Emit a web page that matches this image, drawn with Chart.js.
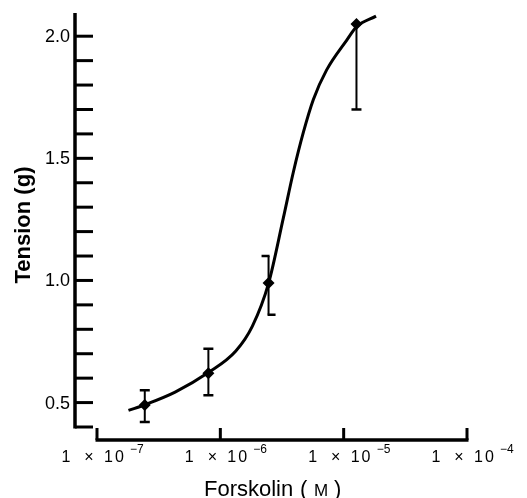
<!DOCTYPE html>
<html lang="en">
<head>
  <meta charset="utf-8">
  <script src="https://cdn.jsdelivr.net/npm/chart.js@4.4.0/dist/chart.umd.min.js"></script>
  <style>
    html, body { margin: 0; padding: 0; background: #fff; }
    .chart-box { width: 527px; height: 498px; position: relative; }
  </style>
</head>
<body>
  <div class="chart-box">
    <canvas id="doseChart"></canvas>
  </div>

  <script>
    // measured points (concentration in M, tension in g)
    const concentrations = [2.44e-7, 8.0e-7, 2.46e-6, 1.27e-5];
    const tension = [0.49, 0.62, 0.99, 2.05];
    const errLow = [0.42, 0.53, 0.86, 1.70];
    const errHigh = [0.55, 0.72, 1.10, 2.05];

    // fitted curve
    const curveX = [1.80e-7, 2.44e-7, 4.30e-7, 8.0e-7, 1.33e-6, 1.82e-6, 2.46e-6, 3.24e-6,
                    3.91e-6, 4.71e-6, 5.68e-6, 7.28e-6, 1.06e-5, 1.27e-5, 1.83e-5];
    const curveY = [0.468, 0.491, 0.543, 0.623, 0.710, 0.813, 0.988, 1.255,
                    1.444, 1.606, 1.741, 1.862, 1.984, 2.038, 2.082];

    const xTickValues = [1e-7, 1e-6, 1e-5, 1e-4];
    const yLabelTicks = ['0.5', '1.0', '1.5', '2.0'];

    const FONT = '"Liberation Sans", Arial, sans-serif';

    // error bars drawn by hand; the third one is a bracket in the original
    const errorBars = {
      id: 'errorBars',
      afterDatasetsDraw(chart) {
        const { ctx, scales: { x, y } } = chart;
        ctx.save();
        ctx.strokeStyle = '#000';
        concentrations.forEach((c, i) => {
          const px = x.getPixelForValue(c);
          const top = y.getPixelForValue(errHigh[i]);
          const bot = y.getPixelForValue(errLow[i]);
          ctx.lineWidth = 2;
          ctx.beginPath();
          ctx.moveTo(px, top);
          ctx.lineTo(px, bot);
          ctx.stroke();
          ctx.lineWidth = 2.5;
          ctx.beginPath();
          if (i === 2) {
            ctx.moveTo(px - 7, top); ctx.lineTo(px + 1, top);
            ctx.moveTo(px - 1, bot); ctx.lineTo(px + 7, bot);
          } else {
            if (errHigh[i] > tension[i]) { ctx.moveTo(px - 5, top); ctx.lineTo(px + 5, top); }
            ctx.moveTo(px - 5, bot); ctx.lineTo(px + 5, bot);
          }
          ctx.stroke();
        });
        ctx.restore();
      }
    };

    // axes offset from the plot area, ticks pointing inwards
    const offsetAxes = {
      id: 'offsetAxes',
      afterDraw(chart) {
        const { ctx, chartArea: a, scales: { x, y } } = chart;
        ctx.save();
        ctx.strokeStyle = '#000';
        ctx.fillStyle = '#000';

        // y axis
        const yAxisX = a.left - 22;
        ctx.lineWidth = 3.5;
        ctx.beginPath();
        ctx.moveTo(yAxisX, a.top);
        ctx.lineTo(yAxisX, a.bottom + 1.5);
        ctx.stroke();
        ctx.lineWidth = 3;
        y.ticks.forEach(t => {
          const v = t.value;
          if (Math.abs(v * 10 - Math.round(v * 10)) > 1e-6) return;
          const py = y.getPixelForValue(v);
          ctx.beginPath();
          ctx.moveTo(yAxisX, py);
          ctx.lineTo(yAxisX + 18, py);
          ctx.stroke();
        });
        ctx.font = '18px ' + FONT;
        ctx.textAlign = 'right';
        ctx.textBaseline = 'middle';
        yLabelTicks.forEach(lbl => {
          ctx.fillText(lbl, yAxisX - 5, y.getPixelForValue(parseFloat(lbl)) + 1);
        });

        // x axis
        const xAxisY = a.bottom + 13;
        const x0 = x.getPixelForValue(xTickValues[0]);
        const x1 = x.getPixelForValue(xTickValues[xTickValues.length - 1]);
        ctx.lineWidth = 3.5;
        ctx.beginPath();
        ctx.moveTo(x0 - 1.5, xAxisY);
        ctx.lineTo(x1 + 1.5, xAxisY);
        ctx.stroke();
        ctx.lineWidth = 3;
        xTickValues.forEach(v => {
          const px = x.getPixelForValue(v);
          ctx.beginPath();
          ctx.moveTo(px, xAxisY);
          ctx.lineTo(px, xAxisY - 12);
          ctx.stroke();

          const exp = Math.round(Math.log10(v));
          const left = px + 7 - 41;
          const base = a.bottom + 35;
          ctx.textBaseline = 'alphabetic';
          ctx.font = '16px ' + FONT;
          ctx.textAlign = 'left';
          ctx.fillText('1', left - 1.5, base);
          ctx.textAlign = 'center';
          ctx.fillText('\u00d7', left + 26, base);
          ctx.textAlign = 'left';
          ctx.letterSpacing = '2px';
          ctx.fillText('10', left + 41, base);
          ctx.letterSpacing = '0px';
          ctx.font = '12px ' + FONT;
          ctx.fillText('\u2212' + Math.abs(exp), left + 67, base - 9);
        });

        // axis titles
        ctx.textBaseline = 'alphabetic';
        ctx.font = '22px ' + FONT;
        ctx.textAlign = 'left';
        const tx = a.left + 107;
        const tb = a.bottom + 69;
        ctx.fillText('Forskolin', tx, tb);
        ctx.fillText('(', tx + 96, tb);
        ctx.fillText(')', tx + 130, tb);
        ctx.font = '17px ' + FONT;
        ctx.textAlign = 'center';
        ctx.fillText('M', tx + 117, tb);

        ctx.save();
        ctx.translate(30, 225);
        ctx.rotate(-Math.PI / 2);
        ctx.font = 'bold 22px ' + FONT;
        ctx.textAlign = 'center';
        ctx.fillText('Tension (g)', 0, 0);
        ctx.restore();

        ctx.restore();
      }
    };

    const ctx = document.getElementById('doseChart').getContext('2d');
    const chart = new Chart(ctx, {
      type: 'scatter',
      data: {
        datasets: [{
          type: 'line',
          data: curveX.map((v, i) => ({ x: v, y: curveY[i] })),
          borderColor: '#000',
          borderWidth: 3,
          pointRadius: 0,
          cubicInterpolationMode: 'monotone',
          fill: false
        }, {
          data: concentrations.map((v, i) => ({ x: v, y: tension[i] })),
          pointStyle: 'rectRot',
          pointRadius: 6,
          backgroundColor: '#000',
          borderColor: '#000',
          borderWidth: 0
        }]
      },
      options: {
        responsive: true,
        maintainAspectRatio: false,
        animation: false,
        layout: { padding: { left: 97, right: 60, top: 13, bottom: 71 } },
        scales: {
          x: { type: 'logarithmic', min: 1e-7, max: 1e-4, display: false },
          y: { type: 'linear', min: 0.4, max: 2.095, display: false, ticks: { stepSize: 0.1 } }
        },
        plugins: {
          legend: { display: false },
          tooltip: { enabled: false }
        }
      },
      plugins: [errorBars, offsetAxes]
    });
  </script>
</body>
</html>
